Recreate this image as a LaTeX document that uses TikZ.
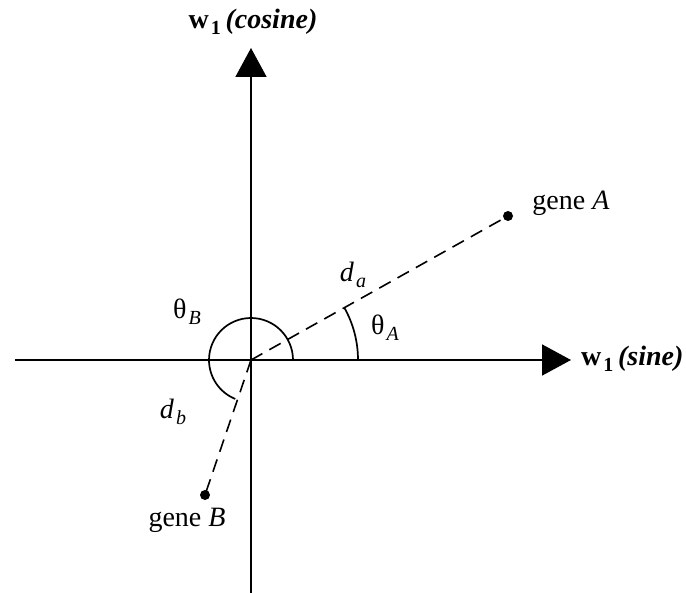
\documentclass[tikz,border=0pt]{standalone}
\usepackage{fontspec}
\setmainfont{Liberation Serif}
\usetikzlibrary{arrows.meta}
\newcommand{\lowsub}[1]{\kern2pt\raisebox{-6pt}{\fontsize{20}{22}\selectfont #1}}
\begin{document}
\begin{tikzpicture}[x=1pt,y=-1pt,
  axis/.style={line width=1.7pt,-{Triangle[length=29pt,width=31pt]}},
  dashline/.style={line width=1.6pt,dash pattern=on 13pt off 8pt},
  anglearc/.style={line width=1.7pt},
  dot/.style={circle,fill=black,inner sep=0pt,minimum size=10pt},
  lbl/.style={inner sep=0pt,font=\fontsize{28}{32}\selectfont}]
\useasboundingbox (0,0) rectangle (686,593);
\fill[white] (0,0) rectangle (686,593);
\coordinate (O) at (251,360);
\coordinate (xl) at (15,360);
\coordinate (xr) at (571,360);
\coordinate (yb) at (251,593);
\coordinate (yt) at (251,48);
\draw[axis] (xl) -- (xr);
\draw[axis] (yb) -- (yt);
\node[dot] (A) at (508,216) {};
\node[dot] (B) at (205,495) {};
\draw[dashline] (O) -- (A.center);
\draw[dashline] (O) -- (B.center);
\draw[anglearc] (O) ++(42,0) arc[start angle=0,end angle=-248,radius=42];
\draw[anglearc] (O) ++(107,0) arc[start angle=0,end angle=-29.3,radius=107];
\node[lbl] (ylab) at (253,22) {\textbf{w}\lowsub{\textbf{1}}\,\textbf{\textit{(cosine)}}};
\node[lbl,anchor=west] (xlab) at (581,359) {\textbf{w}\lowsub{\textbf{1}}\,\textbf{\textit{(sine)}}};
\node[lbl] (gA) at (571,203) {gene \textit{A}};
\node[lbl] (gB) at (187,520) {gene \textit{B}};
\node[lbl] (tA) at (385,328) {θ\lowsub{\textit{A}}};
\node[lbl] (tB) at (187,312) {θ\lowsub{\textit{B}}};
\node[lbl] (da) at (353,275) {\textit{d}\lowsub{\textit{a}}};
\node[lbl] (db) at (173,412) {\textit{d}\lowsub{\textit{b}}};
\end{tikzpicture}
\end{document}
